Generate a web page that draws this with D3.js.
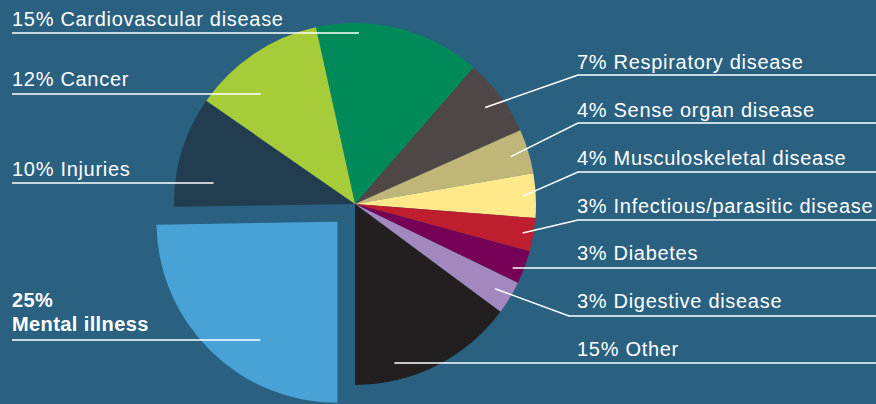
<!DOCTYPE html>
<html>
<head>
<meta charset="utf-8">
<script src="https://cdn.jsdelivr.net/npm/d3@7/dist/d3.min.js"></script>
<style>
  html, body { margin: 0; padding: 0; background: #2a6080; }
  svg { display: block; }
  .lbl { fill: #fff; font-family: "Liberation Sans", Arial, sans-serif; font-size: 20px; letter-spacing: 0.7px; }
  .lbl.bold { font-weight: bold; letter-spacing: 0.4px; }
  .leader { stroke: #fff; stroke-width: 1.5; fill: none; }
</style>
</head>
<body>
<div id="chart"></div>
<script>
// clockwise from the top-left boundary of the cardiovascular slice
const causes = ['Cardiovascular disease', 'Respiratory disease', 'Sense organ disease',
  'Musculoskeletal disease', 'Infectious/parasitic disease', 'Diabetes', 'Digestive disease',
  'Other', 'Mental illness', 'Injuries', 'Cancer'];
const shares = [15, 7, 4, 4, 3, 3, 3, 15, 25, 10, 12];
const colors = ['#008a5a', '#4f4745', '#c0b678', '#ffe98a', '#be1e2d', '#760055', '#a387bf',
  '#231f20', '#48a2d6', '#223c50', '#a6cc3a'];

// label layout: side, text baseline, leader line y, leader kind, anchor radius fraction
const labelLayout = [
  { side: -1, y: 26, lineY: 33, kind: 'flat', k: 0.945 },
  { side: 1, y: 69, lineY: 75, kind: 'elbow', k: 0.895, elbowX: 578 },
  { side: 1, y: 117, lineY: 123, kind: 'elbow', k: 0.9, elbowX: 578 },
  { side: 1, y: 165, lineY: 172, kind: 'elbow', k: 0.93, elbowX: 578 },
  { side: 1, y: 213, lineY: 220, kind: 'elbow', k: 0.94, elbowX: 578 },
  { side: 1, y: 260, lineY: 268, kind: 'flat', k: 0.94 },
  { side: 1, y: 308, lineY: 316, kind: 'elbow', k: 0.905, elbowX: 569 },
  { side: 1, y: 356, lineY: 363, kind: 'flat', k: 0.905 },
  { side: -1, y: 307, lineY: 340, kind: 'flat', k: 0.78, bold: true },
  { side: -1, y: 176, lineY: 183, kind: 'flat', k: 0.79 },
  { side: -1, y: 86, lineY: 94, kind: 'flat', k: 0.8 }
];

const width = 876, height = 404;
const cx = 355, cy = 204, R = 181;
const explodeIdx = 8, explodeDist = 25;
const leftX = 12, rightTextX = 577;

const svg = d3.select('#chart').append('svg')
  .attr('width', width).attr('height', height)
  .attr('viewBox', `0 0 ${width} ${height}`);
svg.append('rect').attr('width', width).attr('height', height).attr('fill', '#2a6080');

// "Other" ends pointing straight down
const total = d3.sum(shares);
const start = Math.PI - 2 * Math.PI * d3.sum(shares.slice(0, 8)) / total;
const pie = d3.pie().sort(null).value((d) => d)
  .startAngle(start).endAngle(start + 2 * Math.PI);
const arcs = pie(shares);
const arc = d3.arc().innerRadius(0).outerRadius(R);

function offsetOf(i) {
  if (i !== explodeIdx) return [0, 0];
  const a = (arcs[i].startAngle + arcs[i].endAngle) / 2;
  return [Math.sin(a) * explodeDist, -Math.cos(a) * explodeDist];
}

const g = svg.append('g').attr('transform', `translate(${cx},${cy})`);
g.selectAll('path.slice').data(arcs).join('path')
  .attr('class', 'slice')
  .attr('transform', (d, i) => `translate(${offsetOf(i)})`)
  .attr('d', arc)
  .attr('fill', (d, i) => colors[i]);

// leaders and labels
arcs.forEach((d, i) => {
  const L = labelLayout[i];
  const [ox, oy] = offsetOf(i);
  const ccx = cx + ox, ccy = cy + oy;
  const r = L.k * R;
  let pts;
  if (L.kind === 'flat') {
    const dy = L.lineY - ccy;
    const dir = (d.startAngle + d.endAngle) / 2;
    const sgn = Math.sin(dir) >= 0 ? 1 : -1;
    const ex = ccx + sgn * Math.sqrt(Math.max(0, r * r - dy * dy));
    pts = L.side < 0 ? [[leftX, L.lineY], [ex, L.lineY]] : [[ex, L.lineY], [width, L.lineY]];
  } else {
    const a = (d.startAngle + d.endAngle) / 2;
    const ax = ccx + Math.sin(a) * r, ay = ccy - Math.cos(a) * r;
    pts = [[ax, ay], [L.elbowX, L.lineY], [width, L.lineY]];
  }
  svg.append('path').attr('class', 'leader').attr('d', d3.line()(pts));

  const tx = L.side < 0 ? leftX : rightTextX;
  if (L.bold) {
    const t = svg.append('text').attr('class', 'lbl bold').attr('x', tx).attr('y', L.y);
    t.append('tspan').attr('x', tx).text(`${shares[i]}%`);
    t.append('tspan').attr('x', tx).attr('dy', 24).text(causes[i]);
  } else {
    svg.append('text').attr('class', 'lbl').attr('x', tx).attr('y', L.y)
      .text(`${shares[i]}% ${causes[i]}`);
  }
});
</script>
</body>
</html>
